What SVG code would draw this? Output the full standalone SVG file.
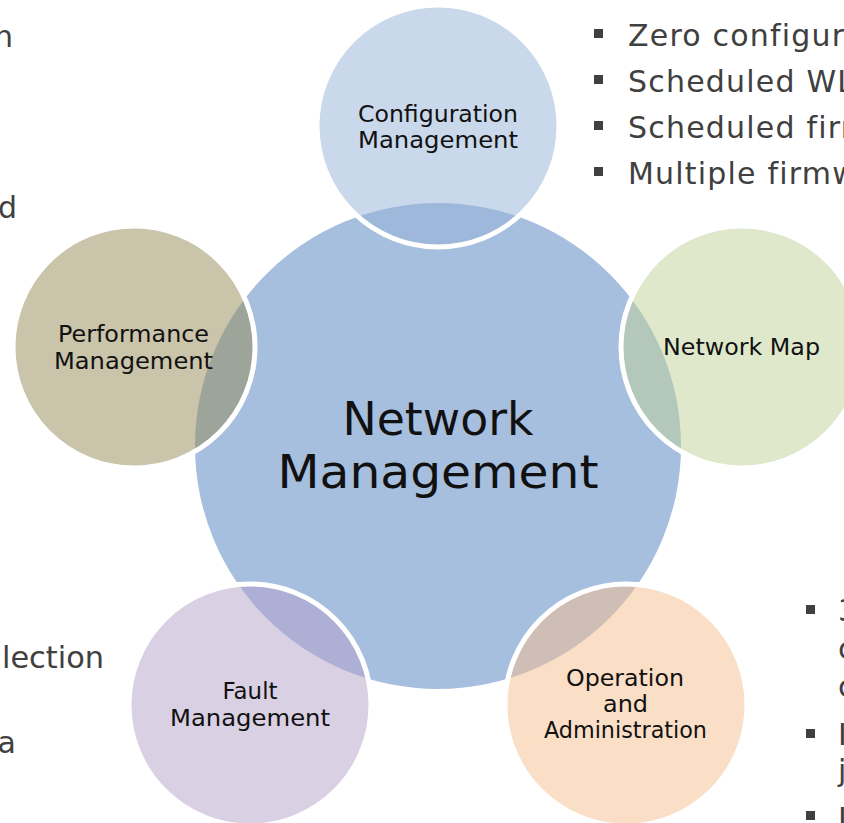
<svg xmlns="http://www.w3.org/2000/svg" width="844" height="823" viewBox="0 0 844 823">
<style>
  .sat { stroke: #FFFFFF; stroke-width: 5; fill-opacity: 0.5; }
  .lbl { font-family: "DejaVu Sans", "Liberation Sans", sans-serif; fill: #111111; text-anchor: middle; }
  .s { font-size: 23px; }
  .big { font-size: 47px; }
  .side { font-family: "DejaVu Sans", "Liberation Sans", sans-serif; font-size: 30px; fill: #404040; }
  .wide { letter-spacing: 1.2px; }
  .bul { fill: #404040; }
</style>
<rect x="0" y="0" width="844" height="823" fill="#FFFFFF"/>

<g id="side-text">
  <text class="side" x="13" y="47" text-anchor="end">n</text>
  <text class="side" x="17" y="218" text-anchor="end">d</text>
  <text class="side" x="2" y="668" textLength="102" lengthAdjust="spacingAndGlyphs">lection</text>
  <text class="side" x="16" y="753" text-anchor="end">a</text>

  <rect class="bul" x="594" y="29" width="9" height="9"/>
  <text class="side wide" x="628" y="46">Zero configuration</text>
  <rect class="bul" x="594" y="75" width="9" height="9"/>
  <text class="side wide" x="628" y="92">Scheduled WLAN</text>
  <rect class="bul" x="594" y="121" width="9" height="9"/>
  <text class="side wide" x="628" y="138">Scheduled firmware</text>
  <rect class="bul" x="594" y="167" width="9" height="9"/>
  <text class="side wide" x="628" y="184">Multiple firmware</text>

  <rect class="bul" x="806" y="605" width="9" height="9"/>
  <text class="side" x="838" y="621">3</text>
  <text class="side" x="838" y="659">c</text>
  <text class="side" x="838" y="697">c</text>
  <rect class="bul" x="806" y="729" width="9" height="9"/>
  <text class="side" x="838" y="745">I</text>
  <text class="side" x="838" y="781">j</text>
  <rect class="bul" x="806" y="811" width="9" height="9"/>
  <text class="side" x="838" y="829">I</text>
</g>

<g id="network-management">
  <circle cx="438" cy="446" r="243" fill="#A7BFDE"/>
  <text class="lbl big" x="438" y="435" textLength="191" lengthAdjust="spacingAndGlyphs">Network</text>
  <text class="lbl big" x="438" y="488" textLength="321" lengthAdjust="spacingAndGlyphs">Management</text>
</g>

<g id="configuration-management">
  <circle class="sat" cx="438" cy="126" r="121" fill="#93B1D7"/>
  <text class="lbl s" x="438" y="122" textLength="160" lengthAdjust="spacingAndGlyphs">Configuration</text>
  <text class="lbl s" x="438" y="148" textLength="160" lengthAdjust="spacingAndGlyphs">Management</text>
</g>

<g id="network-map">
  <circle class="sat" cx="742" cy="347" r="121" fill="#BFD197"/>
  <text class="lbl s" x="741.5" y="355" textLength="157" lengthAdjust="spacingAndGlyphs">Network Map</text>
</g>

<g id="operation-and-administration">
  <circle class="sat" cx="626" cy="705" r="121" fill="#F5BD8D"/>
  <text class="lbl s" x="625" y="686" textLength="118" lengthAdjust="spacingAndGlyphs">Operation</text>
  <text class="lbl s" x="625.5" y="712" textLength="45" lengthAdjust="spacingAndGlyphs">and</text>
  <text class="lbl s" x="625.5" y="738" textLength="163" lengthAdjust="spacingAndGlyphs">Administration</text>
</g>

<g id="fault-management">
  <circle class="sat" cx="250" cy="705" r="121" fill="#B3A1C9"/>
  <text class="lbl s" x="250" y="699" textLength="55" lengthAdjust="spacingAndGlyphs">Fault</text>
  <text class="lbl s" x="250" y="726" textLength="160" lengthAdjust="spacingAndGlyphs">Management</text>
</g>

<g id="performance-management">
  <circle class="sat" cx="134" cy="347" r="121" fill="#938955"/>
  <text class="lbl s" x="133.5" y="342" textLength="151" lengthAdjust="spacingAndGlyphs">Performance</text>
  <text class="lbl s" x="133.5" y="369" textLength="159" lengthAdjust="spacingAndGlyphs">Management</text>
</g>
</svg>
